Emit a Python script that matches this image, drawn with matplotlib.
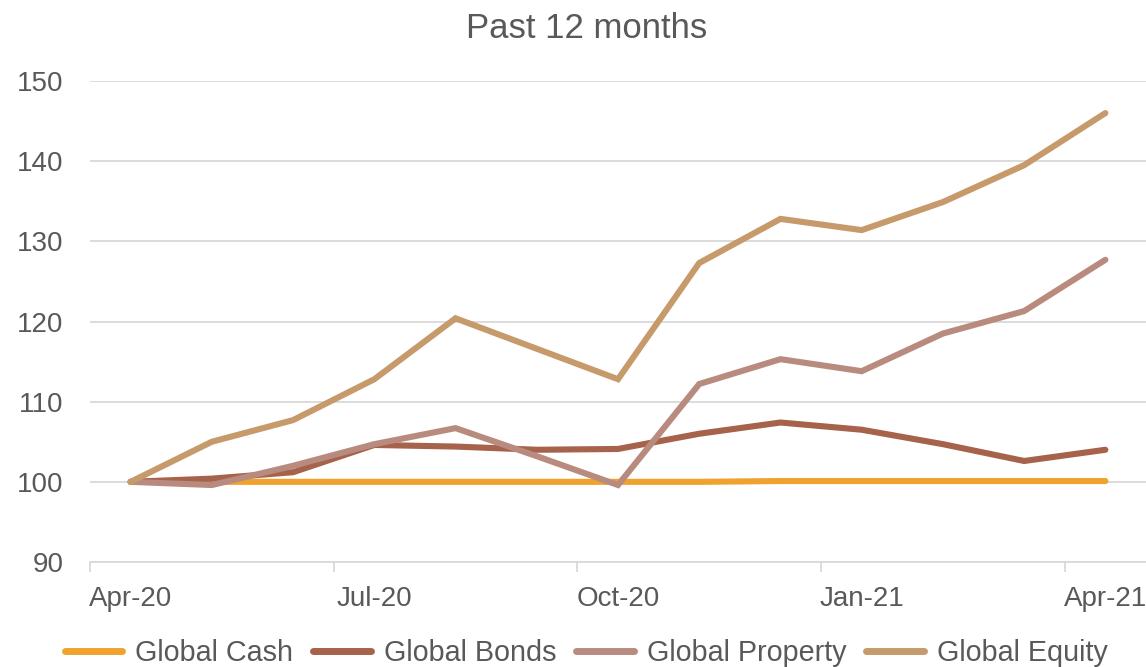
import matplotlib
matplotlib.use("Agg")
import matplotlib.pyplot as plt
import numpy as np

# ==========================
# DATA (rebased to 100, monthly)
# ==========================
months = ["Apr-20", "May-20", "Jun-20", "Jul-20", "Aug-20", "Sep-20", "Oct-20",
          "Nov-20", "Dec-20", "Jan-21", "Feb-21", "Mar-21", "Apr-21"]
tick_labels = ["Apr-20", "Jul-20", "Oct-20", "Jan-21", "Apr-21"]

cash = [100.0, 100.0, 100.0, 100.0, 100.0, 100.0, 100.0, 100.0, 100.1, 100.1, 100.1, 100.1, 100.1]
bonds = [100.0, 100.4, 101.2, 104.6, 104.4, 104.0, 104.1, 106.0, 107.4, 106.5, 104.7, 102.6, 104.0]
prop = [100.0, 99.6, 102.0, 104.7, 106.7, 103.2, 99.6, 112.2, 115.3, 113.8, 118.5, 121.3, 127.7]
equity = [100.0, 105.0, 107.7, 112.8, 120.4, 116.6, 112.8, 127.3, 132.8, 131.4, 134.9, 139.5, 146.0]

series_names = ["Global Cash", "Global Bonds", "Global Property", "Global Equity"]
colors = ["#F0A22E", "#A6624B", "#B98B7F", "#C69A6A"]

TEXT = "#595959"
GRID = "#D9D9D9"

plt.rcParams["font.family"] = ["Liberation Sans", "DejaVu Sans"]

fig = plt.figure(figsize=(11.46, 6.67), dpi=100)
ax = fig.add_axes([90 / 1146, 1 - 562 / 667, 1 - 90 / 1146, (562 - 81) / 667])

x = np.arange(len(months)) + 0.5
for vals, name, c in zip([cash, bonds, prop, equity], series_names, colors):
    ax.plot(x, vals, color=c, lw=4.4, label=name, solid_capstyle="round",
            solid_joinstyle="miter")

ax.set_ylim(90, 150)
ax.set_xlim(0, 13)
ax.set_yticks(range(90, 151, 10))
ax.yaxis.grid(True, color=GRID, lw=1.3)
ax.set_axisbelow(True)

# category-style date axis: tick marks on boundaries, labels at the points
ax.set_xticks([0, 3, 6, 9, 12])
ax.set_xticklabels([])
ax.set_xticks(x[::3], minor=True)
ax.set_xticklabels(tick_labels, minor=True)
ax.tick_params(axis="x", which="major", length=7, width=1.3, color=GRID)
ax.tick_params(axis="x", which="minor", length=0, pad=17, labelsize=20, labelcolor=TEXT)
ax.tick_params(axis="y", length=0, pad=19, labelsize=20, labelcolor=TEXT)

for s in ["left", "right", "top"]:
    ax.spines[s].set_visible(False)
ax.spines["bottom"].set_color(GRID)
ax.spines["bottom"].set_linewidth(1.3)

fig.text(587 / 1146, 1 - 29 / 667, "Past 12 months", ha="center", va="center",
         fontsize=25, color=TEXT)

leg = fig.legend(loc="center", bbox_to_anchor=(586 / 1146, 1 - 653 / 667), ncol=4,
                 frameon=False, fontsize=20.7, handlelength=2.0, handletextpad=0.45,
                 columnspacing=0.7, borderaxespad=0)
for t in leg.get_texts():
    t.set_color(TEXT)
for h in leg.get_lines():
    h.set_linewidth(5)
    h.set_solid_capstyle("round")

fig.savefig("out.png", dpi=100)
